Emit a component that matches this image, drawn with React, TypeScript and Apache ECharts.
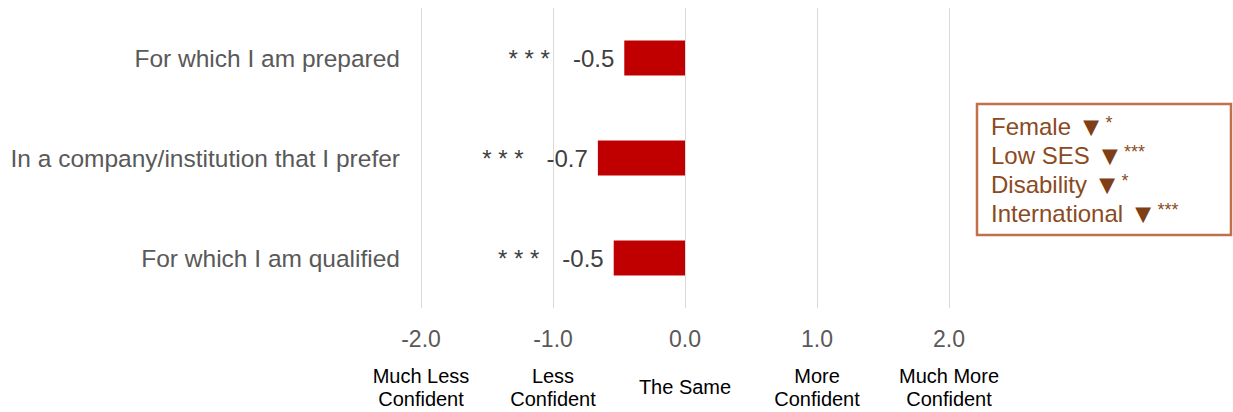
import React, { useEffect, useRef } from "react";
import * as echarts from "echarts";

// Survey items, top to bottom
const categories = [
  "For which I am prepared",
  "In a company/institution that I prefer",
  "For which I am qualified",
];
// Mean change in confidence for each item
const values = [-0.46, -0.66, -0.54];
// Significance markers shown beside each bar
const significance = ["* * *", "* * *", "* * *"];

// Scale ticks and their verbal anchors
const tickValues = [-2, -1, 0, 1, 2];
const tickDescriptions = [
  "Much Less\nConfident",
  "Less\nConfident",
  "The Same",
  "More\nConfident",
  "Much More\nConfident",
];

// Subgroup notes in the side box
const groups = ["Female", "Low SES", "Disability", "International"];
const groupStars = ["*", "***", "*", "***"];

const FONT = "'Liberation Sans', Arial, sans-serif";

export default function App() {
  const ref = useRef<HTMLDivElement>(null);

  useEffect(() => {
    if (!ref.current) return;
    const chart = echarts.init(ref.current, undefined, { renderer: "svg" });

    const descFor = (v: number) => {
      const i = tickValues.indexOf(Math.round(v));
      return i >= 0 ? tickDescriptions[i] : "";
    };

    const boxText = groups
      .map((g, i) => `{t|${g} }{m|▼}{s|${groupStars[i]}}`)
      .join("\n");

    chart.setOption({
      animation: false,
      textStyle: { fontFamily: FONT },
      grid: { left: 421, right: 284, top: 8, bottom: 104, containLabel: false },
      xAxis: [
        {
          type: "value",
          min: -2,
          max: 2,
          interval: 1,
          position: "bottom",
          axisLine: { show: false },
          axisTick: { show: false },
          splitLine: { show: true, lineStyle: { color: "#D9D9D9", width: 1 } },
          axisLabel: {
            color: "#595959",
            fontSize: 23,
            fontFamily: FONT,
            margin: 19,
            formatter: (v: number) => v.toFixed(1),
          },
        },
        {
          type: "value",
          min: -2,
          max: 2,
          interval: 1,
          position: "bottom",
          axisLine: { show: false },
          axisTick: { show: false },
          splitLine: { show: false },
          axisLabel: {
            color: "#000000",
            fontSize: 20,
            fontFamily: FONT,
            lineHeight: 23,
            margin: 79,
            verticalAlign: "middle",
            formatter: (v: number) => descFor(v),
          },
        },
      ],
      yAxis: {
        type: "category",
        data: categories,
        inverse: true,
        axisLine: { show: false },
        axisTick: { show: false },
        splitLine: { show: false },
        axisLabel: {
          color: "#595959",
          fontSize: 24.5,
          fontFamily: FONT,
          margin: 21,
        },
      },
      series: [
        {
          type: "bar",
          xAxisIndex: 0,
          data: values,
          barWidth: 35,
          itemStyle: { color: "#C00000" },
          label: {
            show: true,
            position: "left",
            distance: 10,
            formatter: (p: any) =>
              `{s|${significance[p.dataIndex]}}{g|}{v|${(p.value as number).toFixed(1)}}`,
            rich: {
              s: { fontSize: 24, color: "#404040", fontFamily: FONT },
              g: { width: 23 },
              v: { fontSize: 24, color: "#404040", fontFamily: FONT },
            },
          },
        },
      ],
      graphic: [
        {
          type: "rect",
          shape: { x: 977, y: 104, width: 254, height: 131 },
          style: { fill: "#FFFFFF", stroke: "#C0714A", lineWidth: 2.5 },
          silent: true,
        },
        {
          type: "text",
          x: 991,
          y: 112,
          style: {
            text: boxText,
            fontFamily: FONT,
            fill: "#8B4A22",
            lineHeight: 29,
            rich: {
              t: { fontSize: 24, fill: "#8B4A22", fontFamily: FONT, lineHeight: 29 },
              m: { fontSize: 27, fill: "#7F3F16", fontFamily: FONT, lineHeight: 29 },
              s: {
                fontSize: 18,
                fill: "#8B4A22",
                fontFamily: FONT,
                lineHeight: 29,
                padding: [0, 0, 8, 1],
              },
            },
          },
          silent: true,
        },
      ],
    });

    return () => chart.dispose();
  }, []);

  return (
    <div
      ref={ref}
      style={{ position: "fixed", left: 0, top: 0, width: 1233, height: 412, background: "#FFFFFF" }}
    />
  );
}
